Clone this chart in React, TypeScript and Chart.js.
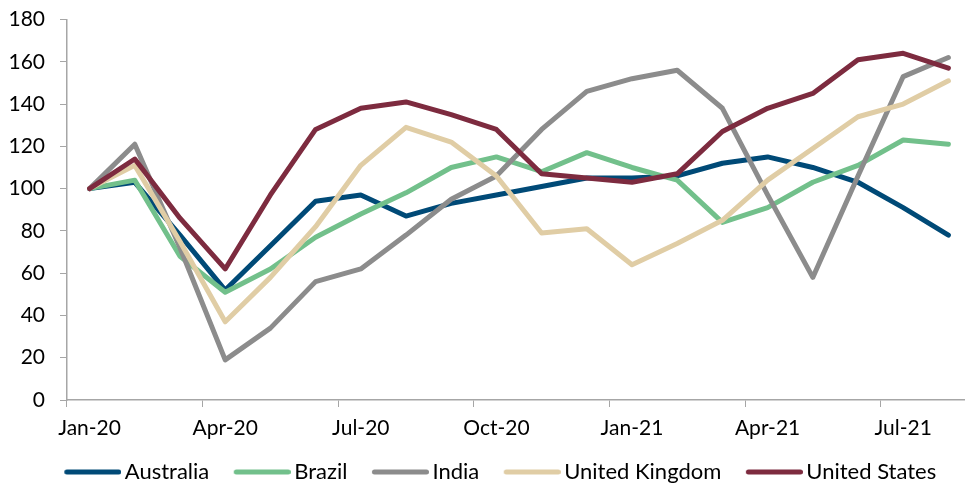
import React, { useEffect, useRef } from "react";
import { Chart, registerables } from "chart.js";

Chart.register(...registerables);

const months = [
  "Jan-20", "Feb-20", "Mar-20", "Apr-20", "May-20", "Jun-20", "Jul-20", "Aug-20", "Sep-20", "Oct-20",
  "Nov-20", "Dec-20", "Jan-21", "Feb-21", "Mar-21", "Apr-21", "May-21", "Jun-21", "Jul-21", "Aug-21",
];

const australia = [100, 103, 78, 52, 73, 94, 97, 87, 93, 97, 101, 105, 105, 106, 112, 115, 110, 103, 91, 78];
const brazil = [100, 104, 68, 51, 62, 77, 88, 98, 110, 115, 108, 117, 110, 104, 84, 91, 103, 111, 123, 121];
const india = [100, 121, 72, 19, 34, 56, 62, 78, 95, 106, 128, 146, 152, 156, 138, 97, 58, 106, 153, 162];
const unitedKingdom = [100, 111, 75, 37, 58, 82, 111, 129, 122, 106, 79, 81, 64, 74, 85, 104, 119, 134, 140, 151];
const unitedStates = [100, 114, 86, 62, 97, 128, 138, 141, 135, 128, 107, 105, 103, 107, 127, 138, 145, 161, 164, 157];

const seriesNames = ["Australia", "Brazil", "India", "United Kingdom", "United States"];
const seriesColors = ["#004A77", "#72C08B", "#8C8C8C", "#E0CDA5", "#7D2B3F"];

const FONT = "Lato";
const FONT_SIZE = 21;
const LEGEND_FONT_SIZE = 22;
const AXIS_COLOR = "#A6A6A6";

function makeLegendLine(color: string): HTMLCanvasElement {
  const c = document.createElement("canvas");
  c.width = 70;
  c.height = 8;
  const g = c.getContext("2d");
  if (g) {
    g.strokeStyle = color;
    g.lineWidth = 5;
    g.lineCap = "round";
    g.beginPath();
    g.moveTo(15.5, 4);
    g.lineTo(67.5, 4);
    g.stroke();
  }
  return c;
}

export default function App() {
  const canvasRef = useRef<HTMLCanvasElement | null>(null);

  useEffect(() => {
    const canvas = canvasRef.current;
    if (!canvas) return;
    const allData = [australia, brazil, india, unitedKingdom, unitedStates];
    const chart = new Chart(canvas, {
      type: "line",
      data: {
        labels: months,
        datasets: allData.map((d, i) => ({
          label: seriesNames[i],
          data: d,
          borderColor: seriesColors[i],
          backgroundColor: seriesColors[i],
          borderWidth: 5,
          borderCapStyle: "round",
          borderJoinStyle: "round",
          pointRadius: 0,
          pointHoverRadius: 0,
          pointStyle: makeLegendLine(seriesColors[i]),
          tension: 0,
          fill: false,
          order: 5 - i,
        })),
      },
      options: {
        responsive: false,
        animation: false,
        events: [],
        layout: { padding: { top: 0, right: 0, bottom: 0, left: 0 } },
        scales: {
          x: {
            type: "category",
            offset: true,
            grid: {
              offset: true,
              drawOnChartArea: false,
              drawTicks: true,
              tickLength: 7,
              color: (ctx: any) => (ctx.index % 3 === 0 ? AXIS_COLOR : "rgba(0,0,0,0)"),
            },
            border: { display: true, color: AXIS_COLOR, width: 1.5 },
            ticks: {
              autoSkip: false,
              maxRotation: 0,
              padding: 9,
              color: "#000",
              font: { family: FONT, size: FONT_SIZE },
              callback: (_v: any, i: number) => (i % 3 === 0 ? months[i] : ""),
            },
            afterFit: (scale: any) => {
              scale.height = 42;
            },
          },
          y: {
            min: 0,
            max: 180,
            grid: {
              drawOnChartArea: false,
              drawTicks: true,
              tickLength: 7,
              color: AXIS_COLOR,
            },
            border: { display: true, color: AXIS_COLOR, width: 1.5 },
            ticks: {
              stepSize: 20,
              padding: 15,
              color: "#000",
              font: { family: FONT, size: FONT_SIZE },
            },
            afterFit: (scale: any) => {
              scale.width = 67;
              scale.paddingTop = 19.5;
              scale.paddingBottom = 0;
            },
          },
          spacer: {
            type: "linear",
            position: "right",
            display: true,
            grid: { display: false, drawTicks: false },
            border: { display: false },
            ticks: { display: false },
            afterFit: (scale: any) => {
              scale.width = 24;
              scale.paddingTop = 0;
              scale.paddingBottom = 0;
            },
          },
        },
        plugins: {
          tooltip: { enabled: false },
          title: { display: false },
          legend: {
            display: true,
            position: "bottom",
            maxHeight: 43,
            labels: {
              usePointStyle: true,
              pointStyleWidth: 55,
              boxHeight: LEGEND_FONT_SIZE,
              padding: 19,
              color: "#000",
              font: { family: FONT, size: LEGEND_FONT_SIZE },
              sort: (a: any, b: any) => a.datasetIndex - b.datasetIndex,
            },
          },
        },
      },
    });
    return () => chart.destroy();
  }, []);

  return (
    <div style={{ position: "fixed", left: 0, top: 0, width: 965, height: 485, overflow: "hidden", background: "#fff" }}>
      <canvas ref={canvasRef} width={995} height={485} style={{ display: "block", width: 995, height: 485 }} />
    </div>
  );
}
